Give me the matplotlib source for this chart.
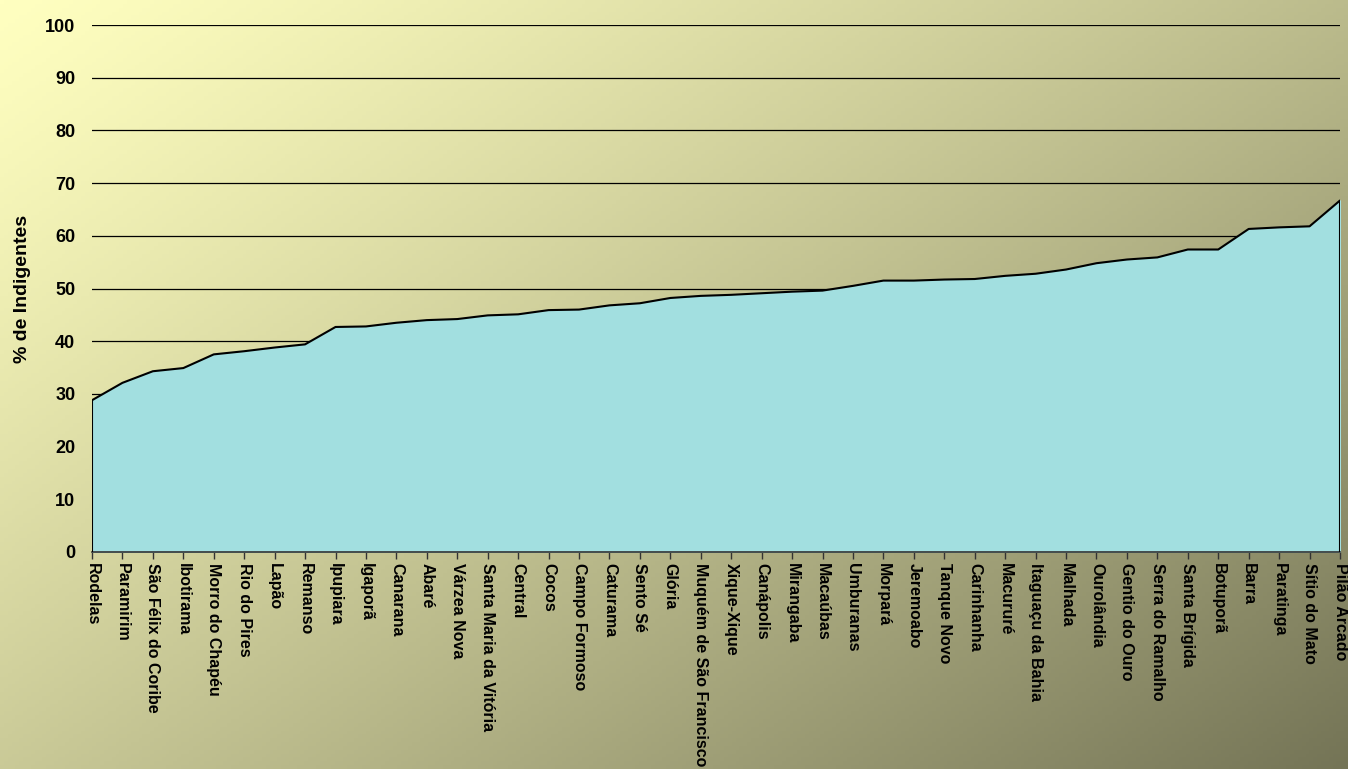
import matplotlib
matplotlib.use("Agg")
import matplotlib.pyplot as plt
import numpy as np

plt.rcParams['font.family'] = ['Liberation Sans', 'DejaVu Sans']

municipios = ['Rodelas', 'Paramirim', 'São Félix do Coribe', 'Ibotirama', 'Morro do Chapéu',
              'Rio do Pires', 'Lapão', 'Remanso', 'Ipupiara', 'Igaporã', 'Canarana', 'Abaré',
              'Várzea Nova', 'Santa Maria da Vitória', 'Central', 'Cocos', 'Campo Formoso',
              'Caturama', 'Sento Sé', 'Glória', 'Muquém de São Francisco', 'Xique-Xique',
              'Canápolis', 'Mirangaba', 'Macaúbas', 'Umburanas', 'Morpará', 'Jeremoabo',
              'Tanque Novo', 'Carinhanha', 'Macururé', 'Itaguaçu da Bahia', 'Malhada',
              'Ourolândia', 'Gentio do Ouro', 'Serra do Ramalho', 'Santa Brígida', 'Botuporã',
              'Barra', 'Paratinga', 'Sítio do Mato', 'Pilão Arcado']
indigentes = [28.8, 32.1, 34.3, 34.9, 37.5, 38.1, 38.8, 39.4, 42.7, 42.8, 43.5, 44.0,
              44.2, 44.9, 45.1, 45.9, 46.0, 46.8, 47.2, 48.2, 48.6, 48.8,
              49.1, 49.4, 49.6, 50.5, 51.5, 51.5, 51.7, 51.8, 52.4, 52.8, 53.6,
              54.8, 55.5, 55.9, 57.4, 57.4, 61.3, 61.6, 61.8, 66.7]
yticks = [0, 10, 20, 30, 40, 50, 60, 70, 80, 90, 100]

fig = plt.figure(figsize=(13.48, 7.69), dpi=100)

# diagonal gradient background (light yellow top-left -> dark olive bottom-right)
bg = fig.add_axes([0, 0, 1, 1], zorder=-10)
h, w = 200, 350
yy, xx = np.mgrid[0:h, 0:w]
t = (xx / (w - 1) * 0.55 + yy / (h - 1) * 0.45) ** 1.2
c0 = np.array([255, 255, 192]) / 255
c1 = np.array([116, 116, 86]) / 255
img = c0[None, None, :] * (1 - t[..., None]) + c1[None, None, :] * t[..., None]
bg.imshow(img, aspect='auto', extent=[0, 1, 0, 1], origin='upper')
bg.axis('off')

ax = fig.add_axes([92 / 1348, 1 - 552 / 769, (1340 - 92) / 1348, (552 - 25) / 769])
ax.set_facecolor('none')

x = np.arange(len(municipios))
ax.fill_between(x, indigentes, 0, color='#A2DFE0', zorder=2)
ax.plot(np.r_[x[0], x, x[-1]], np.r_[0, indigentes, 0], color='black', lw=1.5, zorder=3)

ax.set_xlim(0, len(municipios) - 1)
ax.set_ylim(0, 100)
ax.set_yticks(yticks)
ax.set_yticklabels([str(v) for v in yticks], fontsize=13, fontweight='bold')
ax.set_xticks(x)
ax.set_xticklabels(municipios, rotation=270, fontsize=11.5, fontweight='bold', ha='center', va='top')
ax.tick_params(axis='y', length=0, pad=12)
ax.tick_params(axis='x', direction='out', length=5, width=1, pad=3, color='#333333')

for v in yticks[1:]:
    ax.axhline(v, color='black', lw=0.9, zorder=1)

for s in ['top', 'right', 'left']:
    ax.spines[s].set_visible(False)
ax.spines['bottom'].set_color('#333333')
ax.spines['bottom'].set_linewidth(1.2)

ax.set_ylabel('% de Indigentes', fontsize=14, fontweight='bold', labelpad=10)

fig.savefig('out.png', dpi=100)
